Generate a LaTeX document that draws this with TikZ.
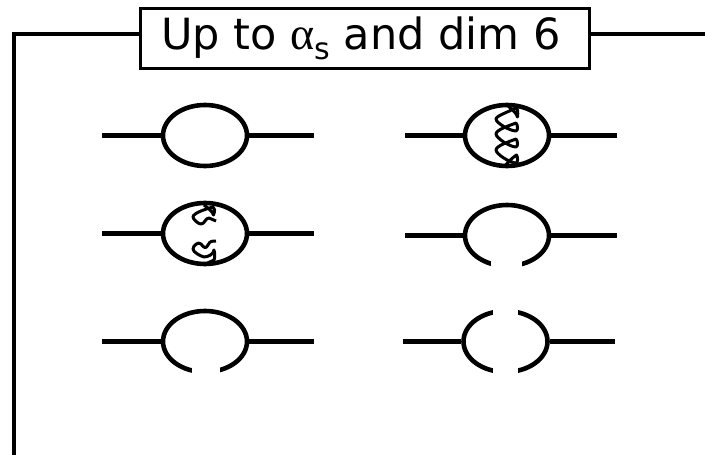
\documentclass[tikz,border=0pt]{standalone}
\usepackage{fontspec}
\usetikzlibrary{shapes.geometric}
\setmainfont{DejaVu Sans}
\newfontfamily\alphafont{Liberation Serif}
\begin{document}
\begin{tikzpicture}[x=1pt,y=-1pt,
  leg/.style={line width=4.6pt},
  frame line/.style={line width=3.8pt},
  loop/.style={draw,ellipse,line width=4.6pt,minimum width=84pt,minimum height=61pt,inner sep=0pt},
  gapmask/.style={fill=white,draw=none},
  gluon/.style={line width=3pt,line join=round},
  title/.style={draw,line width=2.4pt,minimum width=449pt,minimum height=60pt,inner sep=0pt,font=\fontsize{43}{48}\selectfont}]
\useasboundingbox (0,0) rectangle (705,455);
\fill[white] (0,0) rectangle (705,455);
% frame
\coordinate (fl) at (14,34);
\coordinate (fb) at (14,455);
\coordinate (fr) at (705,34);
\node[title] (t) at (365,38.5) {\hspace{-8pt}Up to {\alphafont\fontsize{46}{48}\selectfont α}\raisebox{-10pt}{\fontsize{30}{30}\selectfont s} and dim 6};
\draw[frame line] (fb) -- (fl) -- (t.west |- fl);
\draw[frame line] (t.east |- fr) -- (fr);
% loops
\node[loop] (e1) at (205,135.5) {};
\node[loop] (e2) at (507,135.5) {};
\node[loop] (e3) at (205,233.5) {};
\node[loop] (e4) at (507,235.5) {};
\node[loop] (e5) at (205,341.5) {};
\node[loop] (e6) at (505.5,341.5) {};
% legs
\coordinate (a1) at (102,135.5); \coordinate (b1) at (314,135.5);
\coordinate (a2) at (405,135.5); \coordinate (b2) at (617,135.5);
\coordinate (a3) at (102,233.5); \coordinate (b3) at (314,233.5);
\coordinate (a4) at (405,235.5); \coordinate (b4) at (617,235.5);
\coordinate (a5) at (102,341.5); \coordinate (b5) at (314,341.5);
\coordinate (a6) at (403,341.5); \coordinate (b6) at (615,341.5);
\foreach \i in {1,...,6}{
  \draw[leg] (a\i) -- (e\i.west);
  \draw[leg] (e\i.east) -- (b\i);
}
% cuts
\fill[gapmask] (491,255) rectangle (522,272);
\fill[gapmask] (192,360) rectangle (220,378);
\fill[gapmask] (493,300) rectangle (518,320);
\fill[gapmask] (493,360) rectangle (518,378);
% gluon across the second loop
\draw[gluon] (506,104) .. controls (511,109) and (517,113) .. (517.5,117)
  .. controls (518,112) and (518,109) .. (516,108)
  .. controls (508,112) and (496,116) .. (496,119)
  .. controls (496,123) and (510,131) .. (516,131)
  .. controls (518,131) and (518,125) .. (516,123)
  .. controls (508,126) and (496,130) .. (496,134)
  .. controls (496,138) and (510,147) .. (516,147)
  .. controls (518,147) and (518,141) .. (516,139)
  .. controls (508,142) and (496,146) .. (496,150)
  .. controls (496,154) and (510,163) .. (516,163)
  .. controls (518,163) and (518,157) .. (516.5,155)
  .. controls (512,158) and (508,162) .. (505,166);
% gluon stubs in the third loop
\draw[gluon] (204,205) .. controls (208,208) and (213,212) .. (213.5,215)
  .. controls (215,211) and (215,208) .. (213,207)
  .. controls (206,209) and (193,213) .. (193,217)
  .. controls (193,219) and (198,224) .. (201,224)
  .. controls (205,224) and (205,218) .. (209,218)
  .. controls (212,218) and (213,221) .. (216,221);
\draw[gluon] (216,241) .. controls (212,241) and (210,241) .. (208,245)
  .. controls (206,249) and (204,248) .. (201,244)
  .. controls (198,241) and (193,246) .. (193,249)
  .. controls (193,252) and (200,256) .. (204,257)
  .. controls (208,257) and (214,254) .. (214,250)
  .. controls (215,254) and (215,258) .. (214,260)
  .. controls (210,262) and (207,263) .. (204,265);
\end{tikzpicture}
\end{document}
